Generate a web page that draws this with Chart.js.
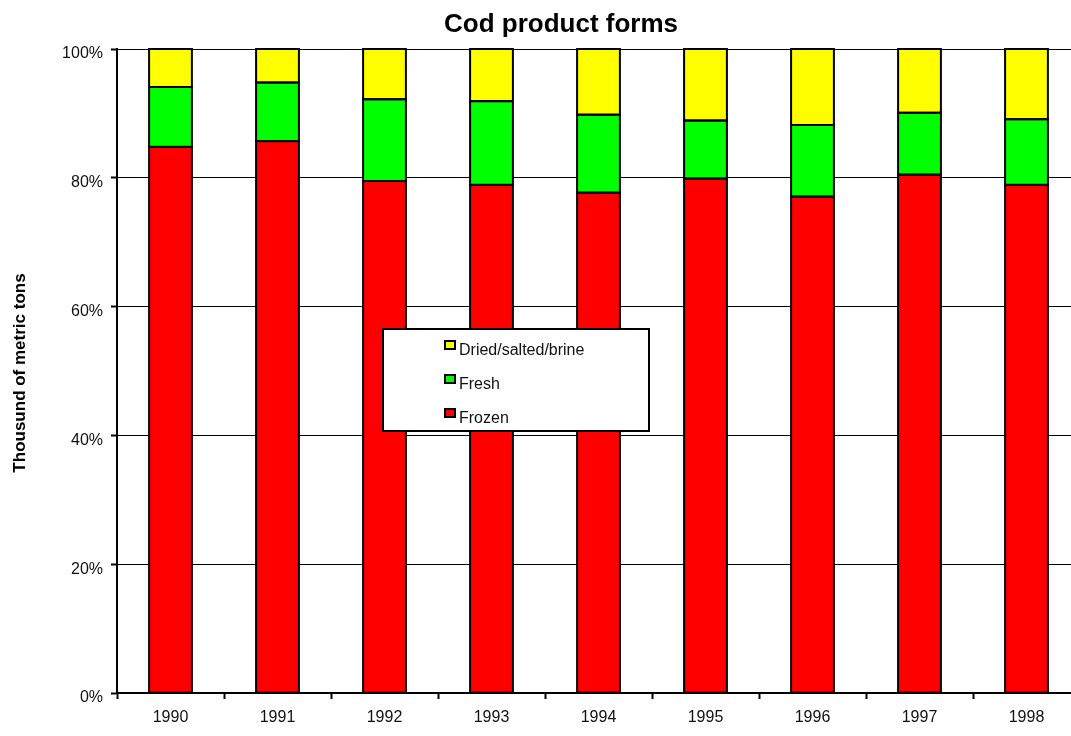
<!DOCTYPE html>
<html>
<head>
<meta charset="utf-8">
<script src="https://cdn.jsdelivr.net/npm/chart.js@4.4.1/dist/chart.umd.min.js"></script>
<style>
  html, body { margin: 0; padding: 0; background: #fff; overflow: hidden; }
  #wrap { width: 1090px; height: 736px; position: relative; }
</style>
</head>
<body>
<div id="wrap"><canvas id="c"></canvas></div>
<script>
// Share of each cod product form per year (percent of total)
const years = ['1990', '1991', '1992', '1993', '1994', '1995', '1996', '1997', '1998'];
const frozen = [84.8, 85.7, 79.5, 78.9, 77.7, 79.9, 77.1, 80.5, 78.9];
const fresh  = [9.3, 9.1, 12.7, 13.0, 12.1, 9.0, 11.1, 9.6, 10.2];
const dried  = [5.9, 5.2, 7.8, 8.1, 10.2, 11.1, 11.8, 9.9, 10.9];
const yTicks = [0, 20, 40, 60, 80, 100];

const FONT = 'Arial, "Liberation Sans", Helvetica, sans-serif';

// Black outline centred on each bar segment's edges
const barOutlines = {
  id: 'barOutlines',
  afterDatasetsDraw(chart) {
    const ctx = chart.ctx;
    ctx.save();
    ctx.strokeStyle = '#000';
    ctx.lineWidth = 2;
    chart.data.datasets.forEach((ds, di) => {
      chart.getDatasetMeta(di).data.forEach(bar => {
        const p = bar.getProps(['x', 'y', 'base', 'width'], true);
        const left = p.x - p.width / 2;
        const top = Math.min(p.y, p.base);
        const h = Math.abs(p.base - p.y);
        ctx.strokeRect(left, top, p.width, h);
      });
    });
    ctx.restore();
  }
};

// Title, rotated axis title and the boxed legend inside the plot
const decorations = {
  id: 'decorations',
  afterDraw(chart) {
    const ctx = chart.ctx;
    ctx.save();
    ctx.fillStyle = '#000';
    ctx.font = 'bold 26px ' + FONT;
    ctx.textAlign = 'center';
    ctx.textBaseline = 'alphabetic';
    ctx.fillText('Cod product forms', 561, 32);

    ctx.save();
    ctx.translate(25, 373);
    ctx.rotate(-Math.PI / 2);
    ctx.font = 'bold 17px ' + FONT;
    ctx.textBaseline = 'alphabetic';
    ctx.fillText('Thousund of metric tons', 0, 0);
    ctx.restore();

    // legend box
    const bx = 383, by = 329, bw = 266, bh = 102;
    ctx.fillStyle = '#fff';
    ctx.fillRect(bx, by, bw, bh);
    ctx.strokeStyle = '#000';
    ctx.lineWidth = 2;
    ctx.strokeRect(bx, by, bw, bh);

    const items = chart.data.datasets.slice().reverse();
    ctx.font = '16px ' + FONT;
    ctx.textAlign = 'left';
    items.forEach((ds, i) => {
      const sy = 341 + i * 34;
      ctx.fillStyle = ds.backgroundColor;
      ctx.fillRect(445, sy, 10, 8);
      ctx.lineWidth = 2;
      ctx.strokeStyle = '#000';
      ctx.strokeRect(445, sy, 10, 8);
      ctx.fillStyle = '#111';
      ctx.fillText(ds.label, 459, sy + 14);
    });
    ctx.restore();
  }
};

const mkSet = (label, data, color) => ({
  label, data,
  backgroundColor: color,
  borderWidth: 0,
  categoryPercentage: 1.0,
  barPercentage: 0.4
});

new Chart(document.getElementById('c'), {
  type: 'bar',
  data: {
    labels: years,
    datasets: [
      mkSet('Frozen', frozen, '#ff0000'),
      mkSet('Fresh', fresh, '#00ff00'),
      mkSet('Dried/salted/brine', dried, '#ffff00')
    ]
  },
  options: {
    responsive: true,
    maintainAspectRatio: false,
    animation: false,
    layout: { padding: { left: 0, right: 10, top: 49, bottom: 0 } },
    plugins: { legend: { display: false }, title: { display: false }, tooltip: { enabled: false } },
    scales: {
      x: {
        stacked: true,
        offset: true,
        afterFit(s) { s.height = 43; },
        grid: { display: true, offset: true, drawOnChartArea: false, drawTicks: true, tickLength: 6, tickWidth: 2, tickColor: '#000', color: '#000' },
        border: { display: true, color: '#000', width: 2 },
        ticks: { color: '#111', font: { family: FONT, size: 16 }, padding: 9, maxRotation: 0 }
      },
      y: {
        stacked: true,
        min: 0,
        max: 100,
        afterFit(s) { s.width = 117; },
        afterBuildTicks(s) { s.ticks = yTicks.map(v => ({ value: v })); },
        grid: { color: '#000', lineWidth: 1, drawTicks: true, tickLength: 6, tickWidth: 2, tickColor: '#000' },
        border: { display: true, color: '#000', width: 2 },
        ticks: {
          color: '#111',
          font: { family: FONT, size: 16 },
          padding: 8,
          labelOffset: 5,
          callback: v => v + '%'
        }
      }
    }
  },
  plugins: [barOutlines, decorations]
});
</script>
</body>
</html>
